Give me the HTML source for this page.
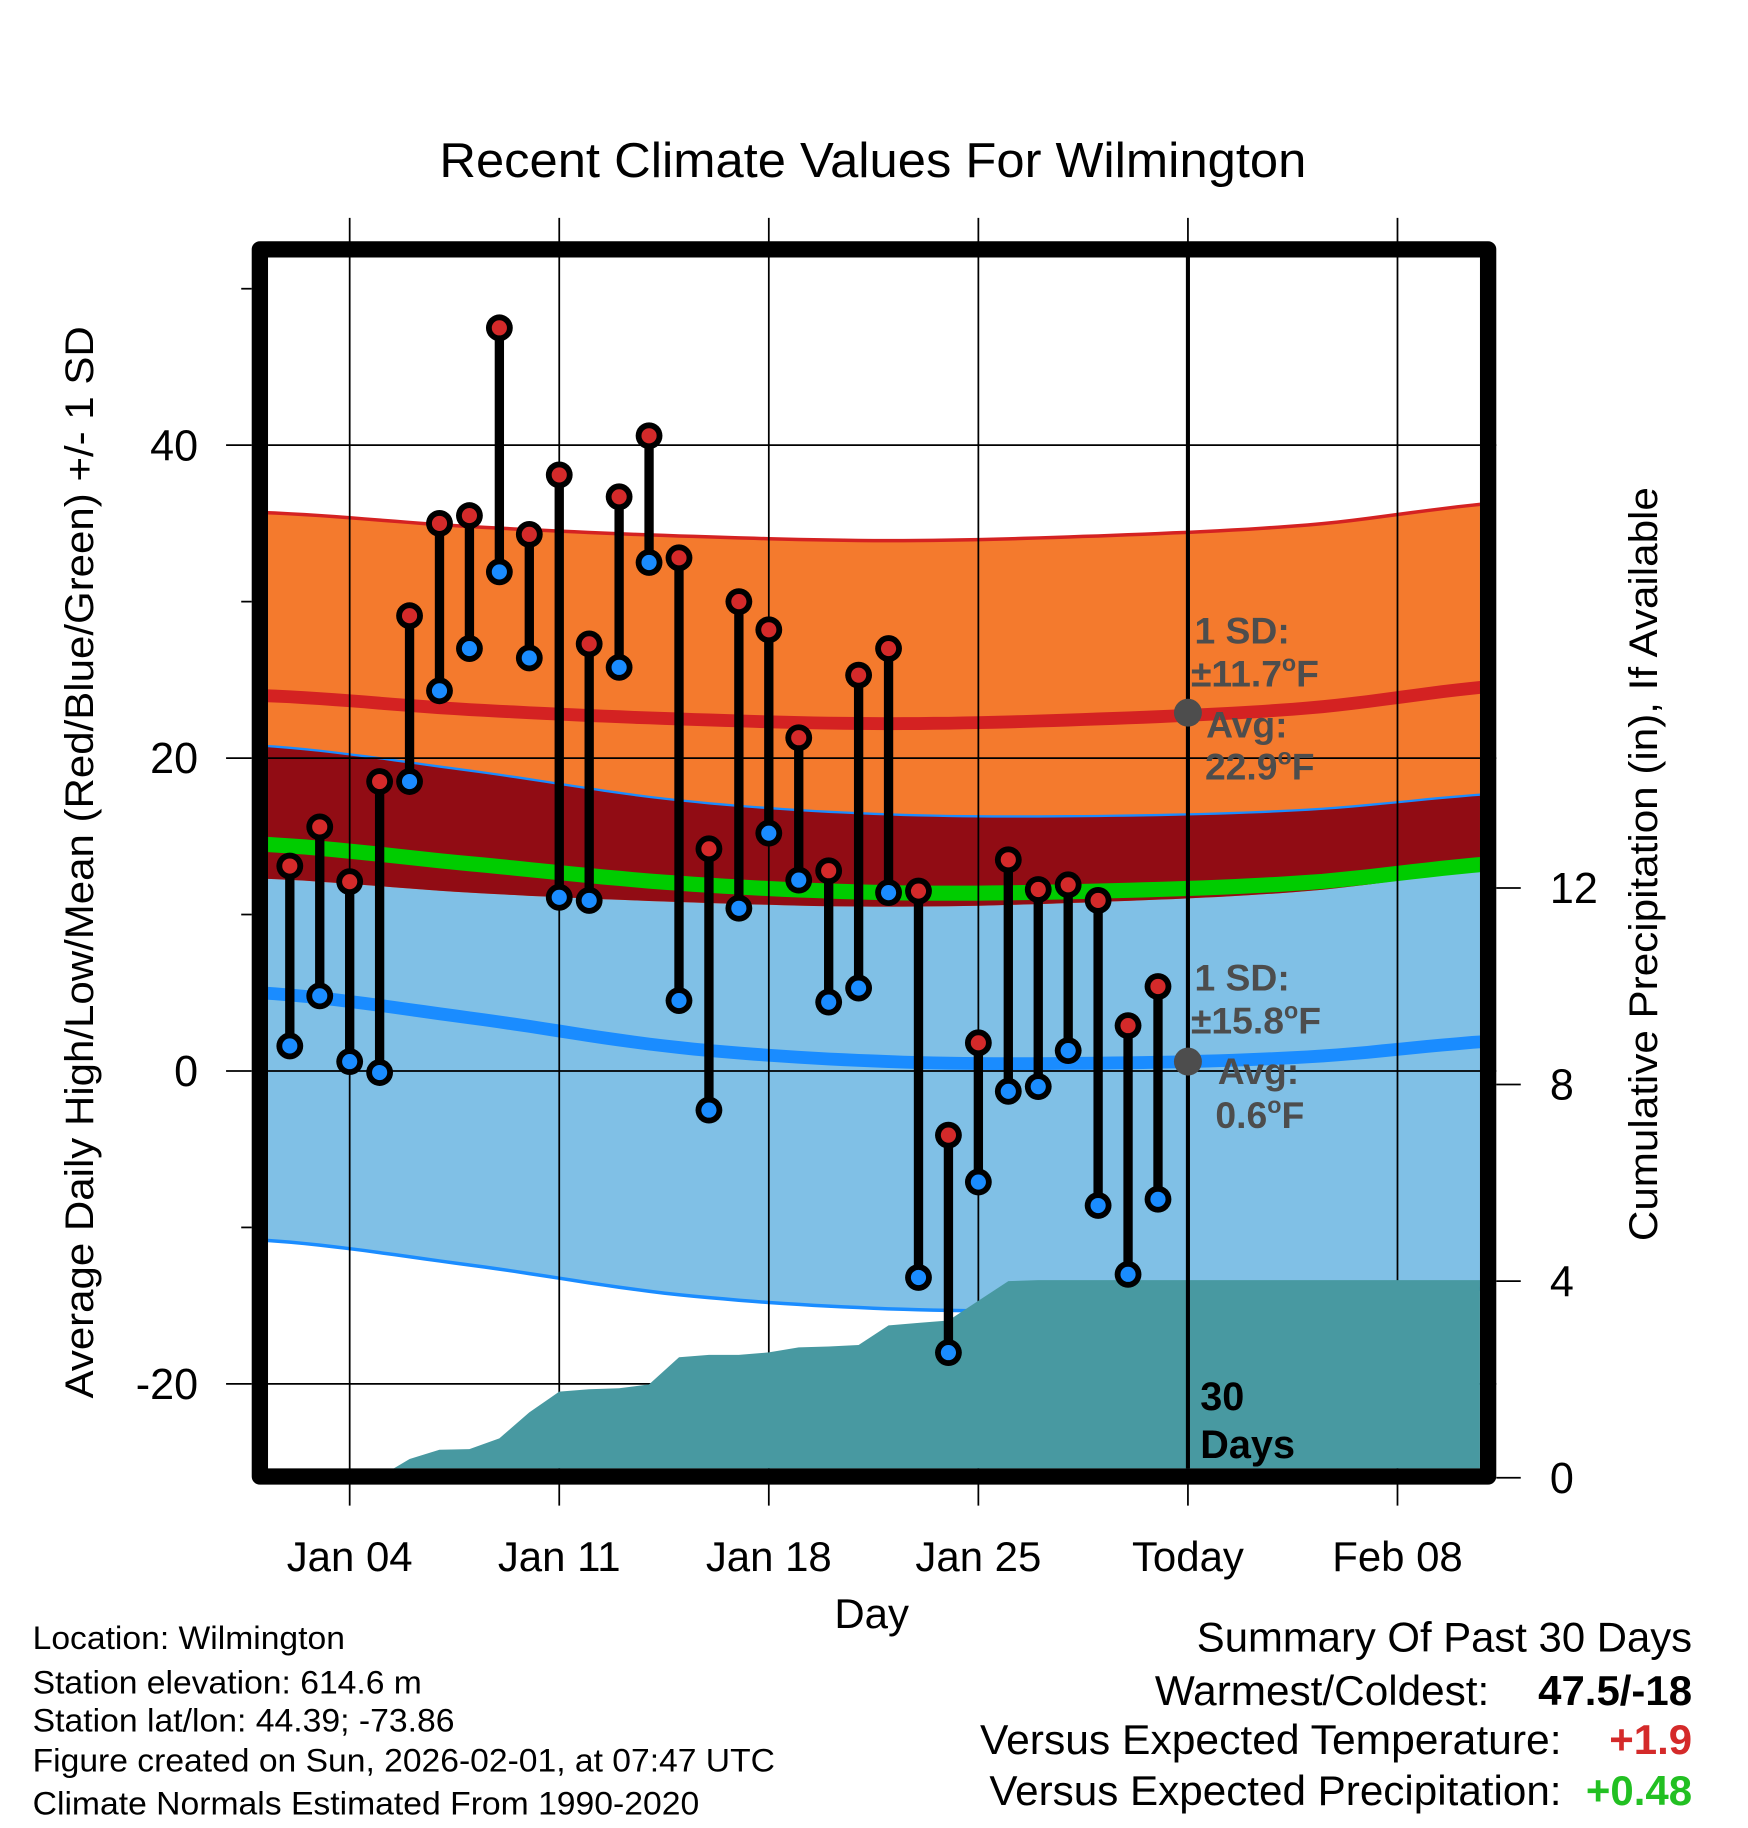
<!DOCTYPE html>
<html><head><meta charset="utf-8">
<style>
html,body{margin:0;padding:0;background:#fff;}
svg{display:block;font-family:"Liberation Sans",Arial,sans-serif;}
</style></head>
<body>
<svg id="chart" width="1748" height="1828" viewBox="0 0 1500 1568.6" preserveAspectRatio="none" xmlns="http://www.w3.org/2000/svg">
<defs><clipPath id="plotclip"><rect x="230" y="221" width="1040" height="1039"/></clipPath></defs>
<text x="377" y="152" font-size="42" textLength="744" lengthAdjust="spacingAndGlyphs">Recent Climate Values For Wilmington</text>
<g id="bands" clip-path="url(#plotclip)"></g>
<g id="grid"></g>
<g id="precip" clip-path="url(#plotclip)"></g>
<g id="marks"></g>
<g id="annot"></g>
<rect x="223" y="214" width="1054" height="1053" fill="none" stroke="#000" stroke-width="14" stroke-linejoin="round"/>
<g id="axes"></g>
<text transform="translate(80,1200) rotate(-90)" font-size="34" textLength="920" lengthAdjust="spacingAndGlyphs">Average Daily High/Low/Mean (Red/Blue/Green) +/- 1 SD</text>
<text transform="translate(1422,1065) rotate(-90)" font-size="34" textLength="647" lengthAdjust="spacingAndGlyphs">Cumulative Precipitation (in), If Available</text>
<text x="748" y="1397" font-size="36" text-anchor="middle">Day</text>
<g font-size="28">
<text x="28" y="1415" textLength="268" lengthAdjust="spacingAndGlyphs">Location: Wilmington</text>
<text x="28" y="1453" textLength="334" lengthAdjust="spacingAndGlyphs">Station elevation: 614.6 m</text>
<text x="28" y="1486" textLength="362" lengthAdjust="spacingAndGlyphs">Station lat/lon: 44.39; -73.86</text>
<text x="28" y="1520" textLength="637" lengthAdjust="spacingAndGlyphs">Figure created on Sun, 2026-02-01, at 07:47 UTC</text>
<text x="28" y="1557" textLength="572" lengthAdjust="spacingAndGlyphs">Climate Normals Estimated From 1990-2020</text>
</g>
<g font-size="36">
<text x="1027" y="1417" textLength="425" lengthAdjust="spacingAndGlyphs">Summary Of Past 30 Days</text>
<text x="991" y="1463" textLength="287" lengthAdjust="spacingAndGlyphs">Warmest/Coldest:</text>
<text x="1452" y="1463" text-anchor="end" font-weight="bold">47.5/-18</text>
<text x="841" y="1505" textLength="499" lengthAdjust="spacingAndGlyphs">Versus Expected Temperature:</text>
<text x="1452" y="1505" text-anchor="end" font-weight="bold" fill="#d42a2a">+1.9</text>
<text x="849" y="1549" textLength="491" lengthAdjust="spacingAndGlyphs">Versus Expected Precipitation:</text>
<text x="1452" y="1549" text-anchor="end" font-weight="bold" fill="#22c022">+0.48</text>
</g>
</svg>
<script>
// ---- data ----
const highs = [13.1,15.6,12.1,18.5,29.1,35.0,35.5,47.5,34.3,38.1,27.3,36.7,40.6,32.8,14.2,30.0,28.2,21.3,12.8,25.3,27.0,11.5,-4.1,1.8,13.5,11.6,11.9,10.9,2.9,5.4];
const lows = [1.6,4.8,0.6,-0.1,18.5,24.3,27.0,31.9,26.4,11.1,10.9,25.8,32.5,4.5,-2.5,10.4,15.2,12.2,4.4,5.3,11.4,-13.2,-18.0,-7.1,-1.3,-1.0,1.3,-8.6,-13.0,-8.2];
const normDays = [1,8,15,22,29,36,43];
const highAvg = [24.0,23.1,22.5,22.2,22.5,23.2,24.7];
const lowAvg = [5.0,3.4,1.5,0.6,0.5,0.9,2.0];
const highSD = 11.7, lowSD = 15.8;
const precipCum = [0,0,0,0,0.02,0.38,0.57,0.58,0.8,1.33,1.75,1.8,1.82,1.9,2.45,2.5,2.5,2.55,2.65,2.67,2.7,3.1,3.15,3.2,3.6,4.0,4.02,4.02,4.02,4.02,4.02,4.02];
const yTicks = [-20,0,20,40];
const yMinor = [-10,10,30,50];
const y2Ticks = [0,4,8,12];
const xTickDays = [4,11,18,25,32,39];
const xTickLabels = ["Jan 04","Jan 11","Jan 18","Jan 25","Today","Feb 08"];

// ---- scales ----
const xs = d => 223 + (d-1)*25.69;     // day of January (Feb 1 = 32)
const ys = v => 919 - v*13.425;
const yp = p => 1268 - p*42.17;
const NS = "http://www.w3.org/2000/svg";
function mk(tag, attrs, parent){const e=document.createElementNS(NS,tag);for(const k in attrs)e.setAttribute(k,attrs[k]);parent.appendChild(e);return e;}
function interp(arr,d){
  const n=normDays.length;
  let i=0; while(i<n-2 && d>normDays[i+1]) i++;
  const t=(d-normDays[i])/(normDays[i+1]-normDays[i]);
  const p0=arr[Math.max(i-1,0)],p1=arr[i],p2=arr[i+1],p3=arr[Math.min(i+2,n-1)];
  return 0.5*((2*p1)+(-p0+p2)*t+(2*p0-5*p1+4*p2-p3)*t*t+(-p0+3*p1-3*p2+p3)*t*t*t);
}

const bands=document.getElementById('bands');
const D=[];for(let d=1;d<=43;d+=0.5)D.push(d);
const pts=f=>D.map(d=>xs(d).toFixed(1)+','+ys(f(d)).toFixed(1));
const hA=d=>interp(highAvg,d), lA=d=>interp(lowAvg,d);
function band(fTop,fBot,fill,name){
  const p=mk('polygon',{points:pts(fTop).concat(pts(fBot).reverse()).join(' '),fill:fill},bands);
  
  
}
band(d=>lA(d)+lowSD,d=>lA(d)-lowSD,'#80c0e6','low-sd-band');
band(d=>hA(d)+highSD,d=>hA(d)-highSD,'#f47a2d','high-sd-band');
band(d=>lA(d)+lowSD,d=>hA(d)-highSD,'#910c14','overlap-band');
function line(f,color,w,name){
  const l=mk('polyline',{points:pts(f).join(' '),fill:'none',stroke:color,'stroke-width':w},bands);
  
  
}
line(d=>hA(d)+highSD,'#d42222',3,'high-upper-line');
line(d=>lA(d)+lowSD,'#1a8cff',2,'low-upper-line');
line(d=>lA(d)-lowSD,'#1a8cff',3,'low-lower-line');
line(d=>hA(d),'#d42222',11,'high-avg-line');
line(d=>lA(d),'#1a8cff',11,'low-avg-line');
line(d=>(hA(d)+lA(d))/2,'#00cc00',13,'mean-line');

// grid
const grid=document.getElementById('grid');
yTicks.forEach(v=>{const g=mk('line',{x1:230,x2:1284,y1:ys(v),y2:ys(v),stroke:'#000','stroke-width':1.5},grid);
  });
xTickDays.forEach(d=>{const g=mk('line',{x1:xs(d),x2:xs(d),y1:187,y2:1292,stroke:'#000','stroke-width':1.5},grid);
  });

// precip
const pr=document.getElementById('precip');
let pp=[xs(1)+','+yp(0)];
precipCum.forEach((v,i)=>pp.push(xs(i+1).toFixed(1)+','+yp(v).toFixed(1)));
pp.push('1270,'+yp(precipCum[precipCum.length-1]).toFixed(1));pp.push('1270,'+yp(0));
const pa=mk('polygon',{points:pp.join(' '),fill:'#4899a1'},pr);


const ann=document.getElementById('annot');
const mg=document.getElementById('marks');
const tl=mk('line',{x1:xs(32),x2:xs(32),y1:221,y2:1260,stroke:'#000','stroke-width':3.5},mg);

highs.forEach((h,i)=>{
  const x=xs(i+2);
  const s=mk('line',{x1:x,x2:x,y1:ys(h),y2:ys(lows[i]),stroke:'#000','stroke-width':8},mg);
  
});
highs.forEach((h,i)=>{
  const x=xs(i+2);
  [[h,'#d42a2a','high-point'],[lows[i],'#1a8cff','low-point']].forEach(([v,c,n])=>{
    const o=mk('circle',{cx:x,cy:ys(v),r:11.5,fill:'#000'},mg);
    
    const c2=mk('circle',{cx:x,cy:ys(v),r:6.5,fill:c},mg);
    
  });
});
[[22.9],[0.6]].forEach(([v])=>{const c=mk('circle',{cx:xs(32),cy:ys(v),r:12,fill:'#4d4d4d'},ann);
  });
ann.innerHTML+=`
<g font-weight="bold" font-size="32" fill="#4d4d4d">
<text x="1025" y="552">1 SD:</text>
<text x="1022" y="589">±11.7<tspan font-size="20" dy="-13">o</tspan><tspan dy="13">F</tspan></text>
<text x="1035" y="633">Avg:</text>
<text x="1034" y="669">22.9<tspan font-size="20" dy="-13">o</tspan><tspan dy="13">F</tspan></text>
<text x="1025" y="850">1 SD:</text>
<text x="1022" y="887">±15.8<tspan font-size="20" dy="-13">o</tspan><tspan dy="13">F</tspan></text>
<text x="1045" y="930">Avg:</text>
<text x="1043" y="968">0.6<tspan font-size="20" dy="-13">o</tspan><tspan dy="13">F</tspan></text>
</g>
<g font-weight="bold" font-size="34" fill="#000">
<text x="1030" y="1210">30</text>
<text x="1030" y="1251">Days</text>
</g>`;

const ax=document.getElementById('axes');
yTicks.forEach(v=>{
  const t=mk('line',{x1:194,x2:216,y1:ys(v),y2:ys(v),stroke:'#000','stroke-width':1.5},ax);
  
  const l=mk('text',{x:170,y:ys(v)+13,'font-size':37,'text-anchor':'end'},ax);l.textContent=v;
  
});
yMinor.forEach(v=>{
  const t=mk('line',{x1:207,x2:216,y1:ys(v),y2:ys(v),stroke:'#000','stroke-width':1.5},ax);
  
});
y2Ticks.forEach(v=>{
  const t=mk('line',{x1:1284,x2:1305,y1:yp(v),y2:yp(v),stroke:'#000','stroke-width':1.5},ax);
  
  const l=mk('text',{x:1330,y:yp(v)+13,'font-size':37},ax);l.textContent=v;
  
});
xTickDays.forEach((d,i)=>{
  const l=mk('text',{x:xs(d),y:1348,'font-size':36,'text-anchor':'middle'},ax);l.textContent=xTickLabels[i];
  
});
</script>
</body></html>
